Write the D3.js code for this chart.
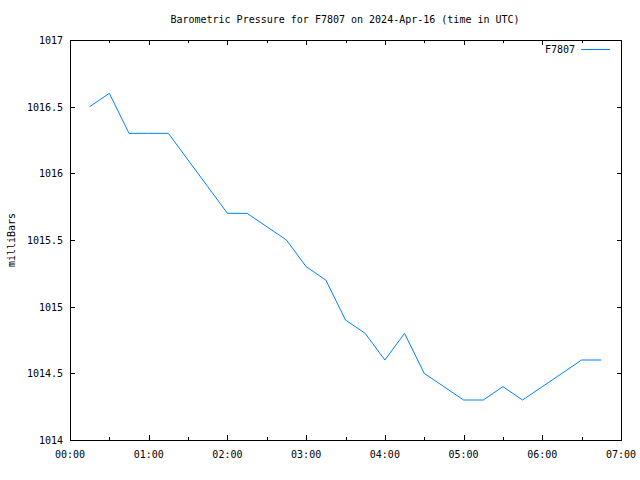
<!DOCTYPE html>
<html>
<head>
<meta charset="utf-8">
<script src="https://cdn.jsdelivr.net/npm/d3@7"></script>
<style>
  body { margin: 0; background: #fff; }
  text { font-family: "DejaVu Sans Mono", monospace; font-size: 10px; fill: #000; }
</style>
</head>
<body>
<svg width="640" height="480"></svg>
<script>
// minutes after midnight UTC, pressure in mb
var times = [15, 30, 45, 60, 75, 90, 105, 120, 135, 150, 165, 180, 195, 210,
             225, 240, 255, 270, 285, 300, 315, 330, 345, 360, 375, 390, 405];
var pressure = [1016.5, 1016.6, 1016.3, 1016.3, 1016.3, 1016.1, 1015.9, 1015.7, 1015.7,
                1015.6, 1015.5, 1015.3, 1015.2, 1014.9, 1014.8, 1014.6, 1014.8, 1014.5,
                1014.4, 1014.3, 1014.3, 1014.4, 1014.3, 1014.4, 1014.5, 1014.6, 1014.6];
var yTicks = [1014, 1014.5, 1015, 1015.5, 1016, 1016.5, 1017];
var xTicks = [0, 60, 120, 180, 240, 300, 360, 420];
var xMinor = [30, 90, 150, 210, 270, 330, 390];

var svg = d3.select("svg");
var pLeft = 70, pRight = 621, pTop = 40, pBottom = 440;

var x = d3.scaleLinear().domain([0, 420]).range([pLeft, pRight]);
var y = d3.scaleLinear().domain([1014, 1017]).range([pBottom, pTop]);

function hhmm(m) {
  return d3.format("02d")(Math.floor(m / 60)) + ":" + d3.format("02d")(m % 60);
}

// frame
svg.append("rect").attr("x", pLeft + 0.5).attr("y", pTop + 0.5)
  .attr("width", pRight - pLeft).attr("height", pBottom - pTop)
  .attr("fill", "none").attr("stroke", "#000");

// y ticks, both sides
yTicks.forEach(function(v){
  var yy = Math.round(y(v)) + 0.5;
  svg.append("line").attr("x1", pLeft).attr("x2", pLeft + 5).attr("y1", yy).attr("y2", yy).attr("stroke", "#000");
  svg.append("line").attr("x1", pRight + 1).attr("x2", pRight - 4).attr("y1", yy).attr("y2", yy).attr("stroke", "#000");
  svg.append("text").attr("x", 63).attr("y", y(v) + 4).attr("text-anchor", "end")
    .text(d3.format("")(v));
});

// x ticks, bottom and top
xTicks.forEach(function(v){
  var xx = Math.round(x(v)) + 0.5;
  svg.append("line").attr("x1", xx).attr("x2", xx).attr("y1", pBottom).attr("y2", pBottom - 5).attr("stroke", "#000");
  svg.append("line").attr("x1", xx).attr("x2", xx).attr("y1", pTop).attr("y2", pTop + 5).attr("stroke", "#000");
  svg.append("text").attr("x", x(v)).attr("y", 458).attr("text-anchor", "middle").text(hhmm(v));
});
xMinor.forEach(function(v){
  var xx = Math.round(x(v)) + 0.5;
  svg.append("line").attr("x1", xx).attr("x2", xx).attr("y1", pBottom).attr("y2", pBottom - 3).attr("stroke", "#000");
  svg.append("line").attr("x1", xx).attr("x2", xx).attr("y1", pTop).attr("y2", pTop + 3).attr("stroke", "#000");
});

// data line
var line = d3.line().x(function(d, i){ return x(times[i]); }).y(function(d){ return y(d); });
svg.append("path").datum(pressure).attr("d", line)
  .attr("fill", "none").attr("stroke", "#0080ff").attr("stroke-width", 1);

// title and labels
svg.append("text").attr("x", 345).attr("y", 23).attr("text-anchor", "middle")
  .text("Barometric Pressure for F7807 on 2024-Apr-16 (time in UTC)");
svg.append("text").attr("transform", "translate(15,240) rotate(-90)")
  .attr("text-anchor", "middle").text("milliBars");

// legend
svg.append("text").attr("x", 575).attr("y", 53).attr("text-anchor", "end").text("F7807");
svg.append("line").attr("x1", 581).attr("x2", 610).attr("y1", 49.5).attr("y2", 49.5)
  .attr("stroke", "#0080ff");
</script>
</body>
</html>
